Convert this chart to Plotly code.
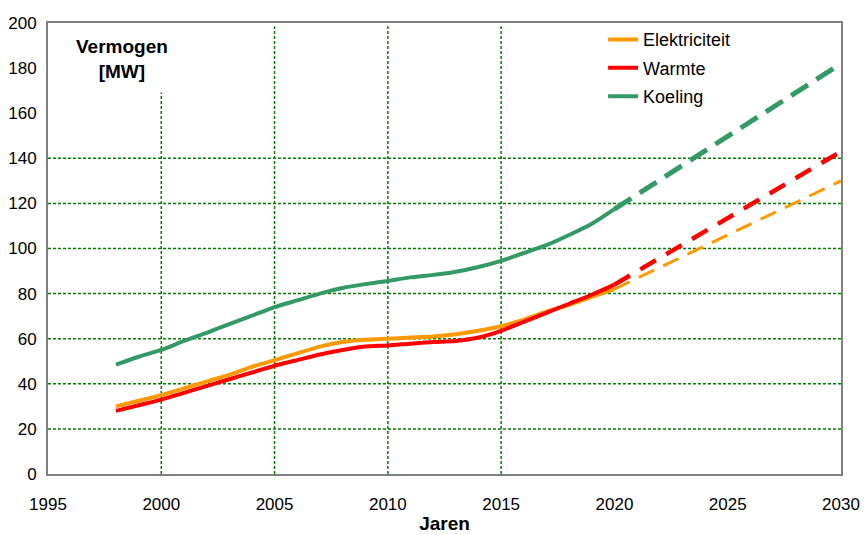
import plotly.graph_objects as go

years = [1998, 1999, 2000, 2001, 2002, 2003, 2004, 2005, 2006, 2007, 2008, 2009,
         2010, 2011, 2012, 2013, 2014, 2015, 2016, 2017, 2018, 2019, 2020]
elektriciteit = [30, 32.5, 35, 38, 41, 44, 47.5, 50.5, 53.5, 56.5, 58.5, 59.5,
                 60, 60.5, 61, 62, 63.5, 65.5, 68.5, 72, 75, 78.5, 82]
warmte = [28, 30.5, 33, 36, 39, 42, 45, 48, 50.5, 53, 55, 56.5,
          57, 57.8, 58.5, 59, 60.5, 63.5, 67.5, 71.5, 75.5, 79.5, 84]
koeling = [48.5, 52, 55, 59, 62.6, 66.5, 70.2, 74, 77, 80, 82.5, 84.2,
           85.6, 87.2, 88.3, 89.7, 91.8, 94.5, 98, 101.5, 106, 111, 117.5]

proj_years = [2020, 2030]
elektriciteit_proj = [82, 130]
warmte_proj = [84, 143]
koeling_proj = [117.5, 182]

names = ["Elektriciteit", "Warmte", "Koeling"]
colors = ["#FF9900", "#FF0000", "#339966"]

x_ticks = [1995, 2000, 2005, 2010, 2015, 2020, 2025, 2030]
y_ticks = [0, 20, 40, 60, 80, 100, 120, 140, 160, 180, 200]
grid_years = [2000, 2005, 2010, 2015]
grid_values = [20, 40, 60, 80, 100, 120, 140]

FONT = "Liberation Sans, Arial, Helvetica, sans-serif"

fig = go.Figure()
solid = [elektriciteit, warmte, koeling]
proj = [elektriciteit_proj, warmte_proj, koeling_proj]
dashes = ["17px,10px", "18px,12px", "20px,10px"]
pwidths = [3, 4.5, 5]
for i, name in enumerate(names):
    fig.add_trace(go.Scatter(x=years, y=solid[i], mode="lines", name=name,
                             legendgroup=name,
                             line=dict(color=colors[i], width=4, shape="spline", smoothing=0.6)))
for i, name in enumerate(names):
    fig.add_trace(go.Scatter(x=proj_years, y=proj[i], mode="lines", name=name,
                             legendgroup=name, showlegend=False,
                             line=dict(color=colors[i], width=pwidths[i], dash=dashes[i])))

for gy in grid_years:
    fig.add_shape(type="line", xref="x", yref="paper", x0=gy, x1=gy, y0=0, y1=0.993,
                  layer="below", line=dict(color="#008000", width=1.5, dash="3px,2px"))
for gv in grid_values:
    fig.add_shape(type="line", xref="paper", yref="y", x0=0, x1=1, y0=gv, y1=gv,
                  layer="below", line=dict(color="#008000", width=1.5, dash="3px,2px"))

fig.add_annotation(text="<b>Vermogen<br>[MW]</b>", xref="paper", yref="paper",
                   x=0.0933, y=0.921, xanchor="center", yanchor="middle",
                   showarrow=False, bgcolor="white", borderpad=10,
                   font=dict(family=FONT, size=19, color="black"), align="center")

fig.update_layout(
    width=867, height=535,
    margin=dict(l=48, r=26, t=23, b=61),
    paper_bgcolor="white", plot_bgcolor="white",
    font=dict(family=FONT, size=17, color="black"),
    showlegend=True,
    legend=dict(x=0.70, y=1.004, xanchor="left", yanchor="top",
                bgcolor="rgba(0,0,0,0)", font=dict(family=FONT, size=18, color="black"),
                tracegroupgap=2),
    xaxis=dict(range=[1995, 2030], tickvals=x_ticks, ticktext=[str(v) for v in x_ticks],
               showgrid=False, zeroline=False, showline=True, mirror=True,
               linecolor="#808080", linewidth=2, ticks="", ticklabelstandoff=14,
               automargin=False,
               tickfont=dict(family=FONT, size=17, color="black"),
               title=dict(text="<b>Jaren</b>", font=dict(family=FONT, size=19, color="black"),
                          standoff=3)),
    yaxis=dict(range=[0, 200], tickvals=y_ticks, ticktext=[str(v) for v in y_ticks],
               showgrid=False, zeroline=False, showline=True, mirror=True,
               linecolor="#808080", linewidth=2, ticks="", ticklabelstandoff=6,
               automargin=False,
               tickfont=dict(family=FONT, size=17, color="black")),
)

fig.write_html("out.html")
